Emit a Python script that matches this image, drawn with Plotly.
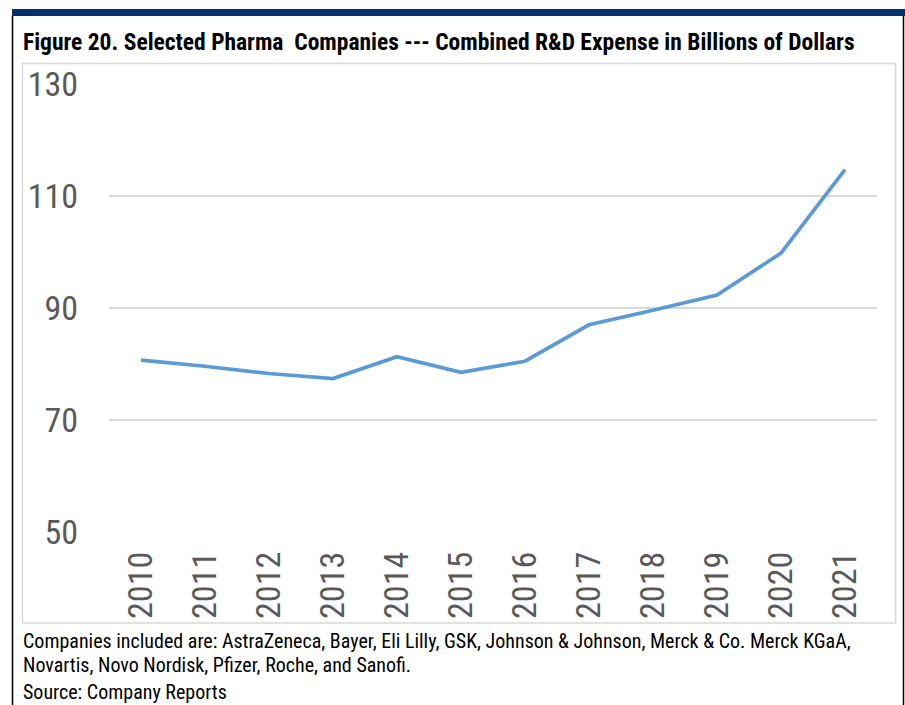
import plotly.graph_objects as go

# ---- data ----
years = ["2010", "2011", "2012", "2013", "2014", "2015",
         "2016", "2017", "2018", "2019", "2020", "2021"]
rd_expense = [80.7, 79.6, 78.3, 77.4, 81.3, 78.5,
              80.5, 87.0, 89.6, 92.3, 99.8, 114.7]
y_ticks = [50, 70, 90, 110, 130]

title_text = "Figure 20. Selected Pharma\u00a0 Companies --- Combined R&D Expense in Billions of Dollars"
note_lines = [
    "Companies included are: AstraZeneca, Bayer, Eli Lilly, GSK, Johnson & Johnson, Merck & Co. Merck KGaA,",
    "Novartis, Novo Nordisk, Pfizer, Roche, and Sanofi.",
    "Source: Company Reports",
]

W, H = 905, 705
L, R, T, B = 109, 877, 84, 532  # plot area in px

def px_x(px):
    return (px - L) / (R - L)

def px_y(py):
    return (B - py) / (B - T)

FONT = "Roboto Condensed, Liberation Sans, Arial, sans-serif"

fig = go.Figure()
fig.add_trace(go.Scatter(
    x=years, y=rd_expense, mode="lines",
    line=dict(color="#5B9BD5", width=3.7),
    hoverinfo="x+y", showlegend=False,
))

fig.update_layout(
    width=W, height=H,
    margin=dict(l=L, r=W - R, t=T, b=H - B),
    paper_bgcolor="white", plot_bgcolor="white",
    font=dict(family=FONT, color="#595959"),
    xaxis=dict(
        type="category", range=[-0.5, 11.5],
        showgrid=False, showline=False, zeroline=False,
        ticks="", tickangle=-90, ticklabelstandoff=12,
        tickfont=dict(size=34, color="#595959", family=FONT),
        fixedrange=True,
    ),
    yaxis=dict(
        range=[50, 130], tickvals=y_ticks,
        showgrid=True, gridcolor="#D9D9D9", gridwidth=1.5,
        showline=False, zeroline=False, ticks="",
        ticklabelstandoff=30,
        tickfont=dict(size=34, color="#595959", family=FONT),
        fixedrange=True,
    ),
)

shapes = [
    # top navy bar
    dict(type="rect", xref="paper", yref="paper",
         x0=px_x(12), x1=px_x(905), y0=px_y(16), y1=px_y(9),
         fillcolor="#002F6C", line=dict(width=0), layer="above"),
    # left frame line
    dict(type="line", xref="paper", yref="paper",
         x0=px_x(12.5), x1=px_x(12.5), y0=px_y(16), y1=px_y(705),
         line=dict(color="#000000", width=1.5)),
    # right frame line
    dict(type="line", xref="paper", yref="paper",
         x0=px_x(903.5), x1=px_x(903.5), y0=px_y(16), y1=px_y(705),
         line=dict(color="#000000", width=1.5)),
    # chart box
    dict(type="rect", xref="paper", yref="paper",
         x0=px_x(22.5), x1=px_x(895.5), y0=px_y(623), y1=px_y(63.5),
         line=dict(color="#D9D9D9", width=1.5), fillcolor="rgba(0,0,0,0)",
         layer="below"),
]
fig.update_layout(shapes=shapes)

annotations = [
    dict(text="<b>" + title_text + "</b>", xref="paper", yref="paper",
         x=px_x(21), y=px_y(50 - 0.36 * 23.5), xanchor="left", yanchor="middle",
         showarrow=False, font=dict(size=23.5, color="#000000", family=FONT)),
]
baselines = [648, 672, 699]
for txt, bl in zip(note_lines, baselines):
    annotations.append(dict(
        text=txt, xref="paper", yref="paper",
        x=px_x(21), y=px_y(bl - 0.36 * 20), xanchor="left", yanchor="middle",
        showarrow=False, font=dict(size=20, color="#000000", family=FONT)))
fig.update_layout(annotations=annotations)

fig.write_html("out.html")
